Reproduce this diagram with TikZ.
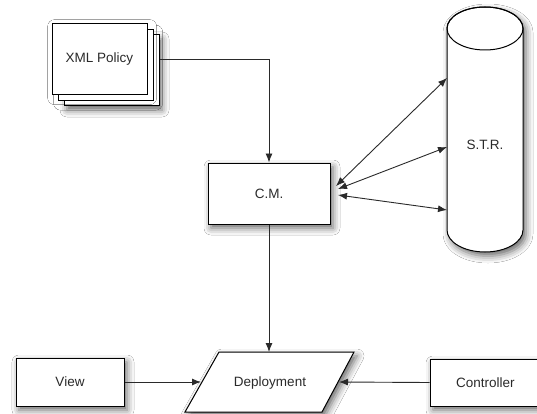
\documentclass[tikz,border=0pt]{standalone}
\usepackage{fontspec}
\setmainfont{Liberation Sans}
\usetikzlibrary{arrows.meta,shadows.blur}
\definecolor{linegray}{HTML}{2A2A2A}
\definecolor{textgray}{HTML}{2A2A2A}
\tikzset{
  shd/.style={blur shadow={shadow xshift=3pt,shadow yshift=-4pt,shadow blur radius=7pt,shadow opacity=60}},
  box/.style={draw=black,line width=1pt,fill=white,shd,inner sep=0pt,text=textgray,font=\fontsize{13.5}{16}\selectfont},
  lbl/.style={text=textgray,font=\fontsize{13.5}{16}\selectfont},
  arr/.style={draw=linegray,line width=0.9pt,-{Latex[length=9pt,width=7pt]}},
  darr/.style={draw=linegray,line width=0.9pt,{Latex[length=9pt,width=7pt]}-{Latex[length=9pt,width=7pt]}}
}
\begin{document}
\begin{tikzpicture}[x=1pt,y=-1pt]
\useasboundingbox (0,0) rectangle (537,414);
\fill[white] (0,0) rectangle (537,414);
% XML Policy stack
\node[box,minimum width=95pt,minimum height=71pt] (xmlback) at (111.5,70.5) {};
\node[box,minimum width=95pt,minimum height=71pt,blur shadow={shadow opacity=0}] (xmlmid) at (105.5,65) {};
\node[box,minimum width=95pt,minimum height=71pt,blur shadow={shadow opacity=0}] (xml) at (99.5,59.5) {XML Policy};
% C.M.
\node[box,minimum width=122pt,minimum height=61pt] (cm) at (269,193.5) {C.M.};
% S.T.R. cylinder
\path[draw=black,line width=1pt,fill=white,shd]
  (447,28.5) -- (447,230) arc[start angle=180,end angle=360,x radius=38,y radius=-22] -- (523,28.5) arc[start angle=0,end angle=180,x radius=38,y radius=-21.5] -- cycle;
\draw[black,line width=1pt] (485,28.5) ellipse[x radius=38,y radius=21.5];
\node[lbl] (str) at (485,145) {S.T.R.};
% Deployment parallelogram
\path[draw=black,line width=1pt,fill=white,shd] (219,352) -- (354,352) -- (322,412) -- (185,412) -- cycle;
\node[lbl] (dep) at (270,383) {Deployment};
\coordinate (depT) at (269,352);
\coordinate (depL) at (201,382);
\coordinate (depR) at (339,382);
% View and Controller
\node[box,minimum width=108pt,minimum height=48pt] (view) at (70,382) {View};
\node[box,minimum width=120pt,minimum height=47pt,text width=110pt,align=left] (ctrl) at (490,382.5) {\hspace*{21pt}Controller};
% arrow end points
\coordinate (c1) at (336,186);
\coordinate (c2) at (338,189);
\coordinate (c3) at (338,195);
\coordinate (s1) at (447,78);
\coordinate (s2) at (447,147);
\coordinate (s3) at (447,210);
% connectors
\draw[arr] (xml.center -| xmlback.east) -| (cm.north);
\draw[arr] (cm.south) -- (depT);
\draw[arr] (view.east) -- (depL);
\draw[arr] (ctrl.west) -- (depR);
\draw[darr] (c1) -- (s1);
\draw[darr] (c2) -- (s2);
\draw[darr] (c3) -- (s3);
\end{tikzpicture}
\end{document}
